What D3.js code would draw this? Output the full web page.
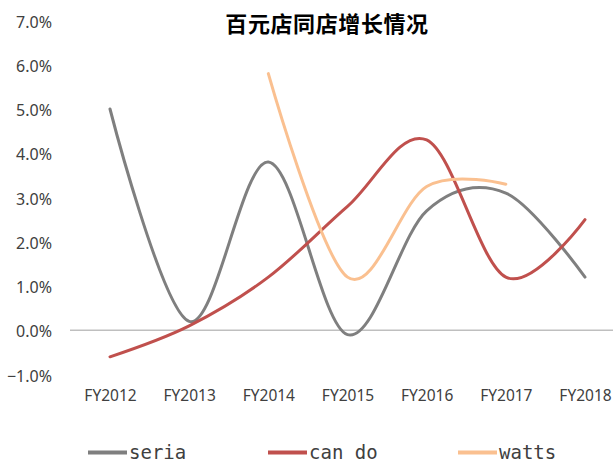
<!DOCTYPE html>
<html><head><meta charset="utf-8">
<script src="https://cdn.jsdelivr.net/npm/d3@7"></script>
<style>body{margin:0;background:#fff}svg{display:block}</style>
</head><body>
<svg id="c" width="613" height="466"></svg>
<script>
const categories = ["FY2012","FY2013","FY2014","FY2015","FY2016","FY2017","FY2018"];
const seria = [5.0, 0.2, 3.8, -0.1, 2.7, 3.1, 1.2];
const cando = [-0.6, 0.1, 1.2, 2.8, 4.3, 1.2, 2.5];
const watts = [null, null, 5.8, 1.2, 3.25, 3.3, null];
const yTicks = [-1, 0, 1, 2, 3, 4, 5, 6, 7];
const seriesNames = ["seria", "can do", "watts"];
const colors = ["#7f7f7f", "#c0504d", "#fac090"];
const title = "百元店同店增长情况";

const svg = d3.select("#c");
const x = d3.scalePoint().domain(categories).range([110, 585]);
const y = d3.scaleLinear().domain([-1, 7]).range([374.5, 20.5]);
const txt = "#404040";

svg.append("text").attr("x", 327).attr("y", 32).attr("text-anchor", "middle")
  .attr("font-family", "'Noto Sans CJK SC'").attr("font-weight", "bold")
  .attr("font-size", 22).attr("letter-spacing", 0.6).attr("fill", "#000").text(title);

// zero line
svg.append("line").attr("x1", 70).attr("x2", 625).attr("y1", y(0)).attr("y2", y(0))
  .attr("stroke", "#bfbfbf").attr("stroke-width", 1.3);

// y labels
const yAxis = d3.axisLeft(y).tickValues(yTicks).tickSize(0).tickPadding(0)
  .tickFormat(d => d3.format(".1f")(d) + "%");
const ga = svg.append("g").attr("transform", "translate(52,1.5)").call(yAxis);
ga.select(".domain").remove();
ga.selectAll("text").attr("font-family", "'Noto Sans'").attr("font-size", 16).attr("fill", txt);

// x labels
const xAxis = d3.axisBottom(x).tickSize(0).tickPadding(0);
const gx = svg.append("g").attr("transform", "translate(0,390)").call(xAxis);
gx.select(".domain").remove();
gx.selectAll("text").attr("font-family", "'Noto Sans'").attr("font-size", 15.5).attr("fill", txt);

const data = [seria, cando, watts];
const line = d3.line()
  .defined(d => d.v !== null)
  .x(d => x(d.c)).y(d => y(d.v))
  .curve(d3.curveCardinal.tension(0));

data.forEach((arr, i) => {
  const pts = categories.map((c, j) => ({c, v: arr[j]})).filter(d => d.v !== null);
  svg.append("path").attr("d", line(pts)).attr("fill", "none")
    .attr("stroke", colors[i]).attr("stroke-width", 3).attr("stroke-linecap", "round");
});

// legend
const legX = [88, 268, 458];
seriesNames.forEach((n, i) => {
  svg.append("line").attr("x1", legX[i]).attr("x2", legX[i] + 39)
    .attr("y1", 452.5).attr("y2", 452.5).attr("stroke", colors[i]).attr("stroke-width", 4);
  svg.append("text").attr("x", legX[i] + 41).attr("y", 459)
    .attr("font-family", "'DejaVu Sans Mono'").attr("font-size", 19).attr("fill", txt).text(n);
});
</script>
</body></html>
